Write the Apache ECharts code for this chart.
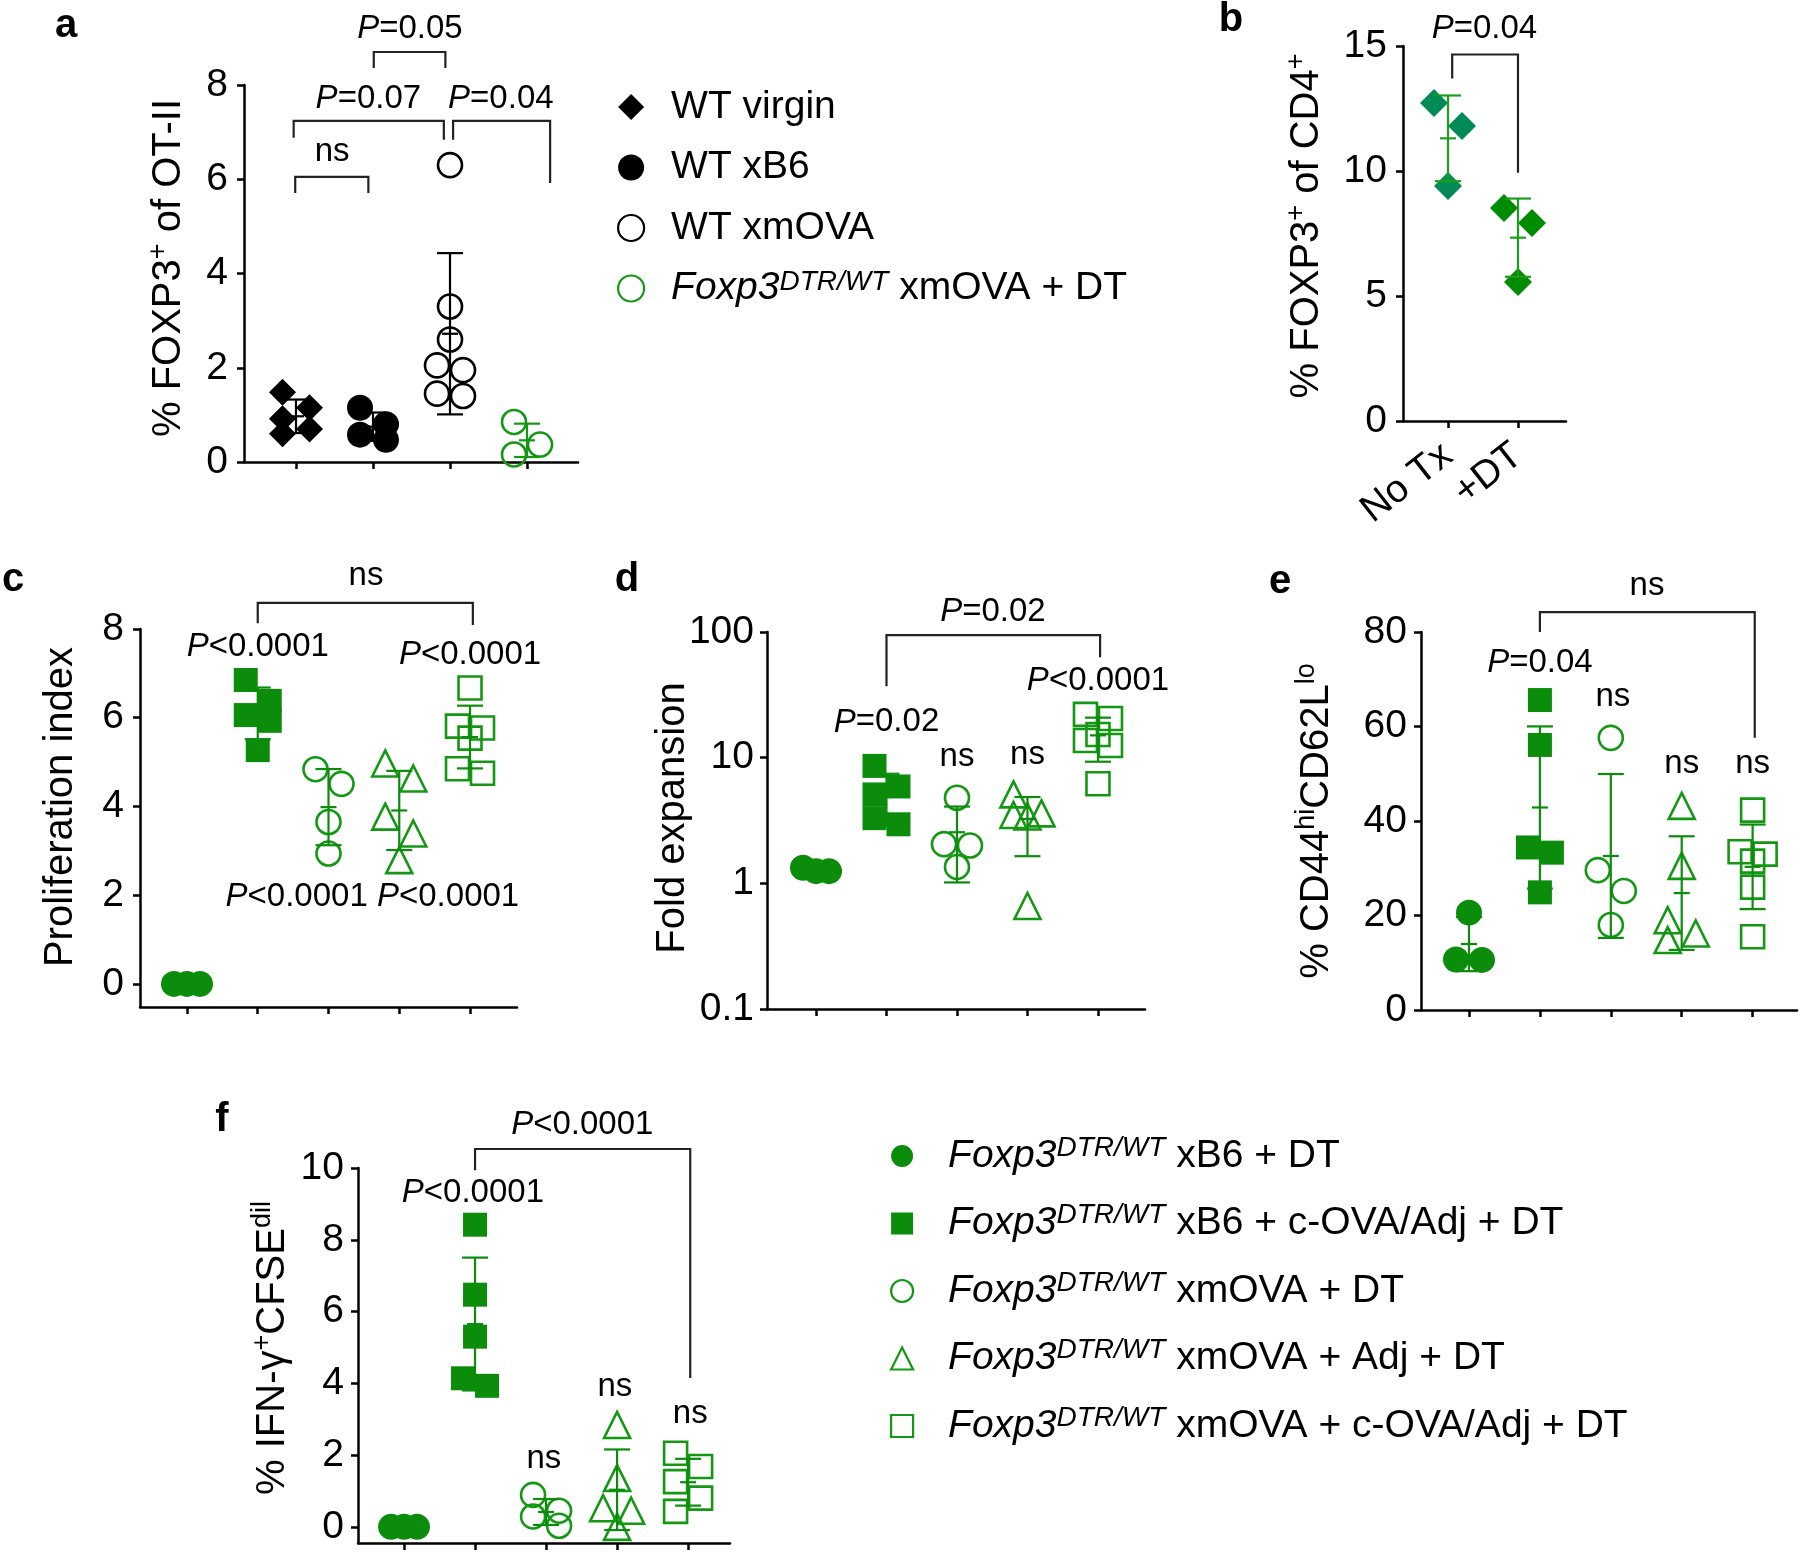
<!DOCTYPE html>
<html><head><meta charset="utf-8">
<script src="https://cdn.jsdelivr.net/npm/echarts@6/dist/echarts.min.js"></script>
<style>html,body{margin:0;padding:0;background:#fff}#chart{width:1800px;height:1552px}</style>
</head><body><div id="chart"></div>
<script>
// ---------------- DATA ----------------
// Panel a: % FOXP3+ of OT-II
const aNames = ['WT virgin', 'WT xB6', 'WT xmOVA', 'Foxp3DTR/WT xmOVA + DT'];
const aWTvirgin = [1.48, 1.15, 0.92, 0.70, 0.60];
const aWTxB6 = [1.15, 0.80, 0.58, 0.47];
const aWTxmOVA = [6.30, 3.30, 2.60, 2.05, 1.95, 1.45, 1.40];
const aFoxp3xmOVA = [0.85, 0.37, 0.16];
// Panel b: % FOXP3+ of CD4+
const bCategories = ['No Tx', '+DT'];
const bNoTx = [12.72, 11.80, 9.40];
const bDT = [8.52, 7.92, 5.56];
// Group names for panels c-f
const cfNames = ['Foxp3DTR/WT xB6 + DT', 'Foxp3DTR/WT xB6 + c-OVA/Adj + DT', 'Foxp3DTR/WT xmOVA + DT',
                 'Foxp3DTR/WT xmOVA + Adj + DT', 'Foxp3DTR/WT xmOVA + c-OVA/Adj + DT'];
// Panel c: proliferation index
const cB6DT = [0, 0, 0];
const cB6cOVA = [6.85, 6.38, 6.06, 5.93, 5.27];
const cOVADT = [4.84, 4.51, 3.65, 2.94];
const cOVAAdj = [4.97, 4.63, 3.77, 3.39, 2.79];
const cOVAcOVA = [6.67, 5.81, 5.77, 5.54, 4.85, 4.75];
// Panel d: fold expansion (log)
const dB6DT = [1.25, 1.33, 1.25];
const dB6cOVA = [8.6, 5.9, 5.1, 3.3, 2.95];
const dOVADT = [4.8, 2.05, 2.0, 1.35];
const dOVAAdj = [5.1, 3.6, 3.5, 3.4, 0.66];
const dOVAcOVA = [22.1, 20.5, 15.3, 13.7, 12.5, 6.2];
// Panel e: % CD44hi CD62Llo
const eB6DT = [20.6, 10.7, 10.6];
const eB6cOVA = [65.6, 56.1, 34.4, 33.3, 24.9];
const eOVADT = [57.6, 29.6, 25.2, 18.0];
const eOVAAdj = [43.2, 30.5, 19.0, 16.2, 14.8];
const eOVAcOVA = [42.3, 33.5, 33.0, 31.5, 26.0, 15.5];
// Panel f: % IFN-g+ CFSEdil
const fB6DT = [0, 0, 0];
const fB6cOVA = [8.42, 6.47, 5.30, 4.14, 3.93];
const fOVADT = [0.89, 0.45, 0.29, 0.03];
const fOVAAdj = [2.84, 1.36, 0.52, 0.45, 0.0];
const fOVAcOVA = [2.05, 1.68, 1.26, 0.80, 0.43];
// Tick labels
const aTicks = [0, 2, 4, 6, 8];
const bTicks = [0, 5, 10, 15];
const cTicks = [0, 2, 4, 6, 8];
const eTicks = [0, 20, 40, 60, 80];
const fTicks = [0, 2, 4, 6, 8, 10];

// ---------------- ANNOTATIONS (x in group units, y in data units) ----------------
const aBrackets = [[0.99, 1.94, 6.05, 5.71, 5.71], [0.97, 2.92, 7.24, 6.88, 6.84], [3.04, 4.30, 7.24, 6.84, 5.92], [2.01, 2.94, 8.70, 8.36, 8.36]];
const aTexts = [['ns', 1.47, 6.58], ['P=0.07', 1.94, 7.71], ['P=0.04', 3.66, 7.71], ['P=0.05', 2.48, 9.19]];
const bBrackets = [[1.06, 2.0, 14.66, 13.7, 9.93]];
const bTexts = [['P=0.04', 1.52, 15.7]];
const cBrackets = [[2.0, 5.04, 8.59, 8.13, 8.09]];
const cTexts = [['ns', 3.53, 9.2], ['P<0.0001', 2.0, 7.59], ['P<0.0001', 5.0, 7.41], ['P<0.0001', 2.55, 1.96], ['P<0.0001', 4.69, 1.96]];
const dBrackets = [[2.0, 5.03, 94.6, 37, 63]];
const dTexts = [['P=0.02', 3.51, 144], ['P=0.02', 2.0, 19.1], ['ns', 3.0, 10.2], ['ns', 4.0, 10.6], ['P<0.0001', 5.0, 40.6]];
const eBrackets = [[2.0, 5.03, 84.2, 80, 57.6]];
const eTexts = [['ns', 3.51, 89.8], ['P=0.04', 2.0, 73.4], ['ns', 3.03, 66.2], ['ns', 4.0, 52], ['ns', 5.0, 52]];
const fBrackets = [[2.0, 5.03, 10.53, 9.94, 4.15]];
const fTexts = [['P<0.0001', 3.51, 11.2], ['P<0.0001', 1.97, 9.3], ['ns', 2.97, 1.9], ['ns', 3.97, 3.9], ['ns', 5.03, 3.15]];

// ---------------- STYLE ----------------
const FONT = "'Liberation Sans', Arial, Helvetica, sans-serif";
const G = '#0b8c0b';
const GL = '#149814';
const cfStyles = [
  {symbol: 'circle', size: 26, color: G, hollow: false},
  {symbol: 'rect', size: 24, color: G, hollow: false},
  {symbol: 'circle', size: 24, color: GL, hollow: true},
  {symbol: 'triangle', size: 26, color: GL, hollow: true},
  {symbol: 'rect', size: 23, color: GL, hollow: true}
];
function cfGroups(arrs) { return arrs.map((v, i) => Object.assign({name: cfNames[i], values: v, bar: G}, cfStyles[i])); }

const panels = [
  {grid: {left: 244, top: 85, width: 334, height: 377}, xr: [0.325, 4.662], nCat: 4, y: {type: 'value', min: 0, max: 8, ticks: aTicks}, lm: 16,
   groups: [
     {name: aNames[0], values: aWTvirgin, symbol: 'diamond', size: 27, color: '#000', bar: '#000'},
     {name: aNames[1], values: aWTxB6, symbol: 'circle', size: 26, color: '#000', bar: '#000'},
     {name: aNames[2], values: aWTxmOVA, symbol: 'circle', size: 24, color: '#000', hollow: true, bar: '#000'},
     {name: aNames[3], values: aFoxp3xmOVA, symbol: 'circle', size: 24, color: GL, hollow: true, bar: GL}],
   brackets: aBrackets, texts: aTexts},
  {grid: {left: 1403, top: 46, width: 163, height: 375}, xr: [0.357, 2.686], nCat: 2, y: {type: 'value', min: 0, max: 15, ticks: bTicks}, lm: 16, xLabels: bCategories,
   groups: [
     {name: 'No Tx', values: bNoTx, symbol: 'diamond', size: 28, color: '#008a56', bar: '#1c9e1c'},
     {name: '+DT', values: bDT, symbol: 'diamond', size: 28, color: '#008c00', bar: '#1c9e1c'}],
   brackets: bBrackets, texts: bTexts},
  {grid: {left: 140, top: 629, width: 377, height: 378}, xr: [0.336, 5.664], nCat: 5, y: {type: 'value', min: -0.52, max: 8, ticks: cTicks}, lm: 16,
   groups: cfGroups([cB6DT, cB6cOVA, cOVADT, cOVAAdj, cOVAcOVA]), brackets: cBrackets, texts: cTexts},
  {grid: {left: 767, top: 632, width: 378, height: 377}, xr: [0.305, 5.667], nCat: 5, y: {type: 'log', min: 0.1, max: 100}, lm: 13,
   groups: cfGroups([dB6DT, dB6cOVA, dOVADT, dOVAAdj, dOVAcOVA]), brackets: dBrackets, texts: dTexts},
  {grid: {left: 1421, top: 632, width: 376, height: 378}, xr: [0.323, 5.626], nCat: 5, y: {type: 'value', min: 0, max: 80, ticks: eTicks}, lm: 14,
   groups: cfGroups([eB6DT, eB6cOVA, eOVADT, eOVAAdj, eOVAcOVA]), brackets: eBrackets, texts: eTexts},
  {grid: {left: 358, top: 1168, width: 372, height: 375}, xr: [0.352, 5.59], nCat: 5, y: {type: 'value', min: -0.45, max: 10, ticks: fTicks}, lm: 14,
   groups: cfGroups([fB6DT, fB6cOVA, fOVADT, fOVAAdj, fOVAcOVA]), brackets: fBrackets, texts: fTexts}
];

// ---------------- HELPERS ----------------
function yToPx(p, v) {
  const h = p.grid.height;
  if (p.y.type === 'log') return (Math.log10(v) - Math.log10(p.y.min)) / (Math.log10(p.y.max) - Math.log10(p.y.min)) * h;
  return (v - p.y.min) / (p.y.max - p.y.min) * h;
}
// Beeswarm: points whose symbols would overlap are moved into left / centre / right slots
function swarm(p, values, d) {
  const idx = values.map((v, i) => i).sort((a, b) => values[b] - values[a]);
  const py = values.map(v => yToPx(p, v));
  const off = values.map(() => 0);
  const clusters = []; let cur = [];
  idx.forEach(i => {
    if (cur.length && (py[cur[cur.length - 1]] - py[i]) < 0.95 * d) cur.push(i);
    else { if (cur.length) clusters.push(cur); cur = [i]; }
  });
  if (cur.length) clusters.push(cur);
  clusters.forEach(c => {
    if (c.length < 2) return;
    const slot = {};
    let pref = -1;
    c.forEach(i => {
      const cost = s => c.reduce((acc, j) => {
        if (slot[j] === undefined) return acc;
        const dx = (s - slot[j]) * d / 2, dy = py[j] - py[i];
        const ov = 0.92 * d - Math.sqrt(dx * dx + dy * dy);
        return acc + (ov > 0 ? ov * ov : 0);
      }, 0);
      let best = pref, bc = cost(pref);
      [-pref, 0].forEach(s => { const cs = cost(s); if (cs < bc - 1e-9) { bc = cs; best = s; } });
      slot[i] = best; off[i] = best * d / 2;
      if (best !== 0) pref = -best;
    });
  });
  return off;
}
function meanSd(a) {
  const m = a.reduce((s, v) => s + v, 0) / a.length;
  const sd = a.length > 1 ? Math.sqrt(a.reduce((s, v) => s + (v - m) * (v - m), 0) / (a.length - 1)) : 0;
  return [m, sd];
}
function richP(t) { return t.charAt(0) === 'P' ? '{i|P}' + t.slice(1) : t; }
const annRich = {i: {fontStyle: 'italic', fontSize: 33, fontFamily: FONT, fill: '#000'}};

const grids = [], xAxes = [], yAxes = [], series = [];
panels.forEach((p, gi) => {
  grids.push(Object.assign({containLabel: false}, p.grid));
  const ticksX = []; for (let k = 1; k <= p.nCat; k++) ticksX.push(k);
  xAxes.push({
    type: 'value', gridIndex: gi, min: p.xr[0], max: p.xr[1],
    axisLine: {show: true, onZero: false, lineStyle: {color: '#000', width: 2.5}},
    axisTick: {show: true, customValues: ticksX, length: 7, lineStyle: {color: '#000', width: 2.5}},
    axisLabel: p.xLabels ? {show: true, customValues: ticksX, formatter: v => p.xLabels[Math.round(v) - 1], rotate: 38, margin: 30,
      fontSize: 39, fontFamily: FONT, color: '#000'} : {show: false},
    splitLine: {show: false}
  });
  const ya = {
    type: p.y.type, gridIndex: gi, min: p.y.min, max: p.y.max,
    axisLine: {show: true, onZero: false, lineStyle: {color: '#000', width: 2.5}},
    axisTick: {show: true, length: 7, lineStyle: {color: '#000', width: 2.5}},
    axisLabel: {show: true, margin: p.lm, fontSize: 39, fontFamily: FONT, color: '#000'},
    splitLine: {show: false}, minorTick: {show: false}
  };
  if (p.y.type === 'log') { ya.logBase = 10; }
  else { ya.axisTick.customValues = p.y.ticks; ya.axisLabel.customValues = p.y.ticks; }
  yAxes.push(ya);

  const pxPerX = p.grid.width / (p.xr[1] - p.xr[0]);
  p.groups.forEach((g, k) => {
    const off = swarm(p, g.values, g.size + (g.hollow ? 2 : 0));
    series.push({
      type: 'scatter', name: g.name, xAxisIndex: gi, yAxisIndex: gi, z: 2, silent: true,
      symbol: g.symbol, symbolSize: g.size,
      itemStyle: g.hollow ? {color: 'rgba(255,255,255,0)', borderColor: g.color, borderWidth: 2.6, opacity: 1}
                          : {color: g.color, borderWidth: 0, opacity: 1},
      data: g.values.map((v, i) => [k + 1 + off[i] / pxPerX, v])
    });
  });
  // mean ± SD error bars
  const stats = p.groups.map((g, k) => { const s = meanSd(g.values); return [k + 1, s[0], s[1]]; });
  series.push({
    type: 'custom', name: 'sd' + gi, xAxisIndex: gi, yAxisIndex: gi, z: 3, silent: true, clip: false,
    data: stats, encode: {x: 0, y: 1},
    renderItem: (params, api) => {
      const x = api.value(0), m = api.value(1), sd = api.value(2);
      const col = p.groups[params.dataIndex].bar;
      const lo = p.y.type === 'log' ? Math.max(m - sd, p.y.min) : m - sd;
      const t = api.coord([x, m + sd]), b = api.coord([x, lo]), c = api.coord([x, m]);
      const st = {stroke: col, lineWidth: 2.2};
      return {type: 'group', children: [
        {type: 'line', shape: {x1: t[0], y1: t[1], x2: b[0], y2: b[1]}, style: st},
        {type: 'line', shape: {x1: t[0] - 13, y1: t[1], x2: t[0] + 13, y2: t[1]}, style: st},
        {type: 'line', shape: {x1: b[0] - 13, y1: b[1], x2: b[0] + 13, y2: b[1]}, style: st},
        {type: 'line', shape: {x1: c[0] - 8, y1: c[1], x2: c[0] + 8, y2: c[1]}, style: st}
      ]};
    }
  });
  // significance brackets
  series.push({
    type: 'custom', name: 'br' + gi, xAxisIndex: gi, yAxisIndex: gi, z: 4, silent: true, clip: false,
    data: p.brackets, encode: {x: [0, 1], y: [2, 3, 4]},
    renderItem: (params, api) => {
      const x1 = api.value(0), x2 = api.value(1), yt = api.value(2), yl = api.value(3), yr = api.value(4);
      return {type: 'polyline', shape: {points: [api.coord([x1, yl]), api.coord([x1, yt]), api.coord([x2, yt]), api.coord([x2, yr])]},
        style: {stroke: '#222', lineWidth: 2.2, fill: null}};
    }
  });
  // p-value texts
  series.push({
    type: 'custom', name: 'tx' + gi, xAxisIndex: gi, yAxisIndex: gi, z: 5, silent: true, clip: false,
    data: p.texts.map(t => [t[1], t[2]]), encode: {x: 0, y: 1},
    renderItem: (params, api) => {
      const q = api.coord([api.value(0), api.value(1)]);
      return {type: 'text', x: q[0], y: q[1], style: {text: richP(p.texts[params.dataIndex][0]), rich: annRich,
        fontSize: 33, fontFamily: FONT, fill: '#000', align: 'center', verticalAlign: 'middle'}};
    }
  });
});

// ---------------- LEGENDS ----------------
function legendFmt(name) { return name.replace('Foxp3DTR/WT', '{i|Foxp3}{s|DTR/WT}'); }
function legendRich(fs, lh) {
  return {i: {fontStyle: 'italic', fontSize: fs, fontFamily: FONT, lineHeight: lh, color: '#000'},
          s: {fontStyle: 'italic', fontSize: 28, fontFamily: FONT, lineHeight: 22, verticalAlign: 'top', color: '#000'}};
}
const legendA = {
  orient: 'vertical', left: 612, top: 82, itemWidth: 26, itemHeight: 26, itemGap: 20.5, selectedMode: false,
  formatter: legendFmt,
  textStyle: {fontSize: 39, fontFamily: FONT, color: '#000', lineHeight: 40, padding: [0, 0, 0, 22], rich: legendRich(39, 40)},
  data: [
    {name: aNames[0], icon: 'diamond', itemStyle: {color: '#000', borderWidth: 0, opacity: 1}},
    {name: aNames[1], icon: 'circle', itemStyle: {color: '#000', borderWidth: 0, opacity: 1}},
    {name: aNames[2], icon: 'circle', itemStyle: {color: 'rgba(255,255,255,0)', borderColor: '#000', borderWidth: 2.2, opacity: 1}},
    {name: aNames[3], icon: 'circle', itemStyle: {color: 'rgba(255,255,255,0)', borderColor: GL, borderWidth: 2.2, opacity: 1}}
  ]
};
const cfIcons = ['circle', 'rect', 'circle', 'triangle', 'rect'];
const legendF = {
  orient: 'vertical', left: 885, top: 1129, itemWidth: 22, itemHeight: 22, itemGap: 23.5, selectedMode: false,
  formatter: legendFmt,
  textStyle: {fontSize: 39, fontFamily: FONT, color: '#000', lineHeight: 44, padding: [0, 0, 0, 30], rich: legendRich(39, 44)},
  data: cfNames.map((n, i) => ({name: n, icon: cfIcons[i],
    itemStyle: cfStyles[i].hollow ? {color: 'rgba(255,255,255,0)', borderColor: GL, borderWidth: 2.2, opacity: 1}
                                  : {color: G, borderWidth: 0, opacity: 1}}))
};

// ---------------- TITLES / PANEL LETTERS ----------------
const titleRich = {s: {fontSize: 27, fontFamily: FONT, lineHeight: 22, verticalAlign: 'top', fill: '#000'}};
function vTitle(x, y, text) {
  return {type: 'text', x: x, y: y, rotation: Math.PI / 2, silent: true,
    style: {text: text, rich: titleRich, fontSize: 40, fontFamily: FONT, lineHeight: 48, fill: '#000', align: 'center', verticalAlign: 'middle'}};
}
function letter(x, y, t) {
  return {type: 'text', x: x, y: y, silent: true,
    style: {text: t, fontSize: 40, fontWeight: 'bold', fontFamily: FONT, fill: '#000', align: 'center', verticalAlign: 'middle'}};
}
const graphics = [
  letter(66, 26, 'a'), letter(1231, 20, 'b'), letter(13, 580, 'c'), letter(627, 580, 'd'), letter(1280, 582, 'e'), letter(222, 1120, 'f'),
  vTitle(169, 268, '% FOXP3{s|+} of OT-II'),
  vTitle(1307, 226, '% FOXP3{s|+} of CD4{s|+}'),
  vTitle(61, 807, 'Proliferation index'),
  vTitle(673, 818, 'Fold expansion'),
  vTitle(1317, 821, '% CD44{s|hi}CD62L{s|lo}'),
  vTitle(273, 1348, '% IFN-\u03b3{s|+}CFSE{s|dil}')
];

const chart = echarts.init(document.getElementById('chart'), null, {renderer: 'canvas'});
chart.setOption({
  animation: false, backgroundColor: '#fff',
  textStyle: {fontFamily: FONT},
  grid: grids, xAxis: xAxes, yAxis: yAxes,
  legend: [legendA, legendF],
  graphic: graphics,
  series: series
});
</script></body></html>
